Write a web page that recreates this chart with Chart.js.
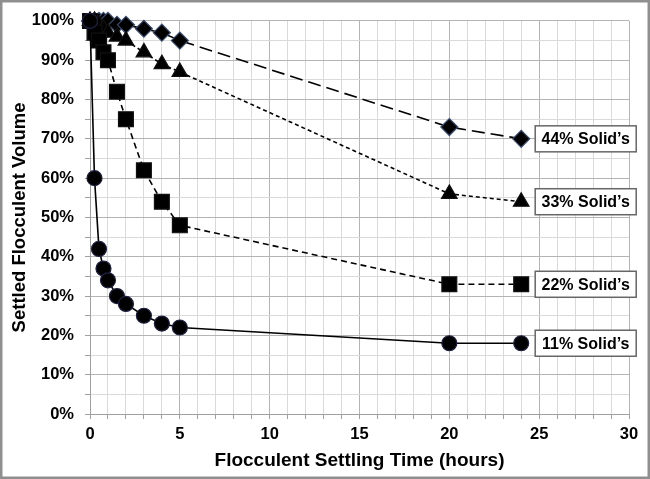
<!DOCTYPE html>
<html><head><meta charset="utf-8">
<script src="https://cdn.jsdelivr.net/npm/chart.js@4/dist/chart.umd.min.js"></script>
<style>html,body{margin:0;padding:0;background:#fff}#wrap{width:650px;height:479px}</style>
</head><body><div id="wrap"><canvas id="c" width="650" height="479"></canvas></div>
<script>
const hours = [0, 0.25, 0.5, 0.75, 1, 1.5, 2, 3, 4, 5, 20, 24];
const solids11 = [100, 60, 42, 37, 34, 30, 28, 25, 23, 22, 18, 18];
const solids22 = [100, 97, 95, 92, 90, 82, 75, 62, 54, 48, 33, 33];
const solids33 = [100, 100, 99, 98, 97, 96, 95, 92, 89, 87, 56, 54];
const solids44 = [100, 100, 100, 100, 100, 99, 99, 98, 97, 95, 73, 70];
const seriesLabels = ["11% Solid\u2019s", "22% Solid\u2019s", "33% Solid\u2019s", "44% Solid\u2019s"];
const xTitle = "Flocculent Settling Time (hours)";
const yTitle = "Settled Flocculent Volume";

const pts = arr => hours.map((h, i) => ({x: h, y: arr[i]}));
const FONT = "'Liberation Sans', Arial, sans-serif";

const frame = {
  id: 'frame',
  beforeDraw(chart) {
    const ctx = chart.ctx;
    ctx.save(); ctx.fillStyle = '#fff'; ctx.fillRect(0, 0, chart.width, chart.height); ctx.restore();
  },
  afterDraw(chart) {
    const ctx = chart.ctx;
    ctx.save(); ctx.strokeStyle = '#8f8f8f'; ctx.lineWidth = 2.5;
    ctx.strokeRect(1.25, 1.25, chart.width - 2.5, chart.height - 2.5); ctx.restore();
  }
};

const boxes = {
  id: 'boxes',
  afterDatasetsDraw(chart) {
    const ctx = chart.ctx, xs = chart.scales.x, ys = chart.scales.y;
    ctx.save();
    chart.data.datasets.forEach(ds => {
      const last = ds.data[ds.data.length - 1];
      const px = xs.getPixelForValue(last.x) + 14;
      const py = ys.getPixelForValue(last.y);
      ctx.fillStyle = '#fff';
      ctx.fillRect(px, py - 13, 101, 26);
      ctx.strokeStyle = '#666'; ctx.lineWidth = 1.5;
      ctx.strokeRect(px, py - 13, 101, 26);
      ctx.fillStyle = '#000';
      ctx.font = "bold 16px " + FONT;
      ctx.textAlign = 'center'; ctx.textBaseline = 'middle';
      ctx.fillText(ds.label, px + 50.5, py + 1);
    });
    ctx.restore();
  }
};

const common = {showLine: true, borderColor: '#000', borderWidth: 1.6, pointBackgroundColor: '#000', pointBorderWidth: 1.2, clip: false, tension: 0};

new Chart(document.getElementById('c'), {
  type: 'scatter',
  data: {
    datasets: [
      Object.assign({}, common, {label: seriesLabels[0], data: pts(solids11), pointStyle: 'circle', pointRadius: 7.5, pointBorderColor: '#1e2040'}),
      Object.assign({}, common, {label: seriesLabels[1], data: pts(solids22), pointStyle: 'rect', pointRadius: 10.5, pointBorderColor: '#111', borderDash: [6, 4]}),
      Object.assign({}, common, {label: seriesLabels[2], data: pts(solids33), pointStyle: 'triangle', pointRadius: 9, pointBorderColor: '#111', borderDash: [4, 3]}),
      Object.assign({}, common, {label: seriesLabels[3], data: pts(solids44), pointStyle: 'rectRot', pointRadius: 8.5, pointBorderColor: '#3a4c70', borderDash: [13, 6]})
    ]
  },
  options: {
    responsive: false,
    animation: false,
    layout: {padding: {top: 17, right: 21, left: 0, bottom: 0}},
    plugins: {legend: {display: false}, tooltip: {enabled: false}},
    scales: {
      x: {
        type: 'linear', min: 0, max: 30,
        afterFit(s) { s.height = 65; },
        ticks: {stepSize: 1, autoSkip: false, maxRotation: 0, padding: 6, color: '#000',
          font: {family: FONT, size: 16.5, weight: 'bold'},
          callback: v => (v % 5 === 0 ? String(v) : '')},
        grid: {color: c => (c.tick && c.tick.value % 5 === 0 ? '#b4b4b4' : '#dadada'), lineWidth: 1, tickLength: 5, tickColor: '#a0a0a0'},
        border: {color: '#a0a0a0', width: 1},
        title: {display: true, text: xTitle, color: '#000', font: {family: FONT, size: 19, weight: 'bold'}, padding: {top: 0, bottom: 6.5}}
      },
      y: {
        type: 'linear', min: 0, max: 100,
        afterFit(s) { s.width = 90; },
        ticks: {stepSize: 5, autoSkip: false, padding: 11, color: '#000',
          font: {family: FONT, size: 16.5, weight: 'bold'},
          callback: v => (v % 10 === 0 ? v + '%' : '')},
        grid: {color: c => (c.tick && c.tick.value % 10 === 0 ? '#b4b4b4' : '#dadada'), lineWidth: 1, tickLength: 5, tickColor: '#a0a0a0'},
        border: {color: '#a0a0a0', width: 1},
        title: {display: true, text: yTitle, color: '#000', font: {family: FONT, size: 18.5, weight: 'bold'}, padding: {top: 9, bottom: 0}}
      }
    }
  },
  plugins: [frame, boxes]
});
</script></body></html>
